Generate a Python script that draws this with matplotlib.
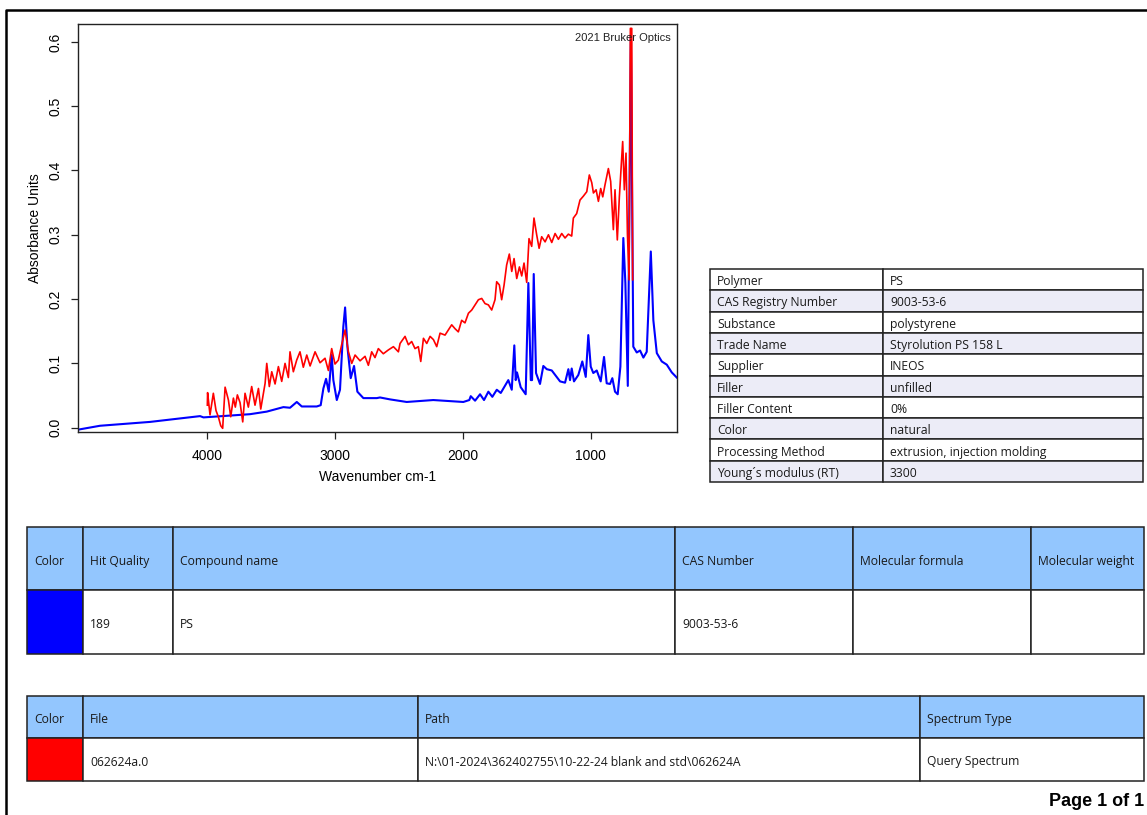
import matplotlib
matplotlib.use('Agg')
import matplotlib.pyplot as plt
from matplotlib.patches import Rectangle

plt.rcParams['font.family'] = ['Liberation Sans', 'DejaVu Sans']

# library hit spectrum (PS), blue
ref_wn = [5010, 4840, 4448, 4188, 4057, 4030, 3666, 3535, 3405, 3353,
          3300, 3261, 3144, 3113, 3092, 3071, 3050, 3027, 3014, 2987,
          2962, 2936, 2922, 2904, 2878, 2852, 2826, 2779, 2674, 2649,
          2570, 2440, 2232, 1997, 1950, 1939, 1905, 1866, 1835, 1801,
          1770, 1735, 1704, 1645, 1618, 1598, 1587, 1577, 1548, 1509,
          1488, 1469, 1459, 1446, 1428, 1397, 1371, 1344, 1305, 1240,
          1201, 1175, 1162, 1149, 1131, 1097, 1066, 1039, 1019, 1000,
          980, 953, 922, 896, 875, 849, 831, 810, 789, 768,
          745, 729, 710, 686, 667, 640, 614, 588, 562, 530,
          510, 483, 444, 405, 366, 327]
ref_abs = [-0.003, 0.003, 0.009, 0.015, 0.018, 0.016, 0.021, 0.025, 0.032, 0.031,
           0.040, 0.033, 0.033, 0.035, 0.061, 0.076, 0.056, 0.113, 0.074, 0.043,
           0.059, 0.157, 0.187, 0.126, 0.077, 0.096, 0.056, 0.046, 0.046, 0.047,
           0.044, 0.040, 0.043, 0.040, 0.043, 0.049, 0.042, 0.052, 0.043, 0.056,
           0.048, 0.059, 0.054, 0.074, 0.059, 0.128, 0.074, 0.086, 0.063, 0.052,
           0.225, 0.074, 0.074, 0.239, 0.085, 0.068, 0.096, 0.091, 0.089, 0.072,
           0.070, 0.091, 0.074, 0.092, 0.072, 0.082, 0.103, 0.079, 0.144, 0.095,
           0.085, 0.089, 0.072, 0.110, 0.069, 0.068, 0.077, 0.056, 0.052, 0.095,
           0.295, 0.225, 0.065, 0.610, 0.126, 0.117, 0.120, 0.109, 0.118, 0.274,
           0.167, 0.116, 0.103, 0.098, 0.086, 0.078]

# query spectrum (062624a.0), red
qry_wn = [4000, 3998, 3979, 3953, 3932, 3914, 3895, 3880, 3861, 3835,
          3817, 3796, 3781, 3765, 3744, 3723, 3705, 3679, 3653, 3627,
          3600, 3582, 3548, 3535, 3515, 3496, 3470, 3444, 3418, 3392,
          3366, 3353, 3327, 3301, 3275, 3249, 3222, 3196, 3157, 3118,
          3079, 3053, 3027, 3001, 2975, 2949, 2922, 2896, 2870, 2844,
          2805, 2766, 2740, 2714, 2688, 2662, 2623, 2583, 2544, 2505,
          2492, 2453, 2427, 2401, 2375, 2349, 2330, 2309, 2283, 2257,
          2231, 2205, 2179, 2140, 2114, 2088, 2062, 2036, 2010, 1984,
          1957, 1931, 1905, 1879, 1853, 1827, 1801, 1775, 1749, 1736,
          1715, 1697, 1678, 1658, 1637, 1618, 1600, 1579, 1558, 1540,
          1522, 1501, 1483, 1462, 1444, 1423, 1404, 1384, 1357, 1331,
          1305, 1279, 1253, 1227, 1201, 1175, 1149, 1136, 1110, 1084,
          1058, 1031, 1011, 992, 979, 958, 940, 922, 906, 888,
          862, 844, 823, 810, 792, 776, 750, 737, 724, 713,
          700, 690, 679, 672]
qry_abs = [0.035, 0.0545, 0.020, 0.0535, 0.0265, 0.017, 0.003, -0.001, 0.063, 0.043,
           0.017, 0.046, 0.032, 0.051, 0.039, 0.009, 0.0535, 0.032, 0.064, 0.035,
           0.061, 0.029, 0.069, 0.100, 0.064, 0.087, 0.068, 0.095, 0.072, 0.100,
           0.078, 0.118, 0.087, 0.105, 0.118, 0.094, 0.113, 0.096, 0.118, 0.101,
           0.108, 0.089, 0.123, 0.099, 0.105, 0.129, 0.152, 0.118, 0.100, 0.113,
           0.104, 0.111, 0.097, 0.118, 0.109, 0.123, 0.115, 0.121, 0.126, 0.118,
           0.131, 0.142, 0.129, 0.134, 0.123, 0.126, 0.103, 0.139, 0.131, 0.142,
           0.137, 0.126, 0.147, 0.144, 0.152, 0.160, 0.154, 0.149, 0.167, 0.163,
           0.178, 0.183, 0.191, 0.199, 0.201, 0.193, 0.191, 0.183, 0.199, 0.227,
           0.222, 0.199, 0.222, 0.253, 0.270, 0.243, 0.263, 0.232, 0.250, 0.236,
           0.256, 0.226, 0.294, 0.282, 0.326, 0.300, 0.279, 0.297, 0.289, 0.300,
           0.288, 0.302, 0.293, 0.302, 0.295, 0.301, 0.298, 0.326, 0.333, 0.354,
           0.360, 0.367, 0.393, 0.381, 0.365, 0.370, 0.352, 0.372, 0.359, 0.378,
           0.403, 0.383, 0.308, 0.370, 0.292, 0.359, 0.445, 0.370, 0.427, 0.302,
           0.230, 0.621, 0.621, 0.230]

x_ticks = [4000, 3000, 2000, 1000]
y_ticks = [0.0, 0.1, 0.2, 0.3, 0.4, 0.5, 0.6]

# info table (right)
info_keys = ['Polymer', 'CAS Registry Number', 'Substance', 'Trade Name', 'Supplier',
             'Filler', 'Filler Content', 'Color', 'Processing Method', 'Young\u00b4s modulus (RT)']
info_vals = ['PS', '9003-53-6', 'polystyrene', 'Styrolution PS 158 L', 'INEOS',
             'unfilled', '0%', 'natural', 'extrusion, injection molding', '3300']

hit_header = ['Color', 'Hit Quality', 'Compound name', 'CAS Number', 'Molecular formula', 'Molecular weight']
hit_row = ['', '189', 'PS', '9003-53-6', '', '']

file_header = ['Color', 'File', 'Path', 'Spectrum Type']
file_row = ['', '062624a.0', 'N:\\01-2024\\362402755\\10-22-24 blank and std\\062624A', 'Query Spectrum']

W, H = 1147, 815
fig = plt.figure(figsize=(W / 100, H / 100), dpi=100)

# page layer in pixel coordinates
bg = fig.add_axes([0, 0, 1, 1])
bg.set_xlim(0, W)
bg.set_ylim(H, 0)
bg.axis('off')
bg.plot([6, 6, W], [H, 9.5, 9.5], color='black', lw=1.8, solid_capstyle='projecting')

HEAD = '#93C6FE'
EDGE = '#222222'
TXT = '#1a1a1a'
TFONT = ['Open Sans', 'DejaVu Sans']


def draw_table(xs, ys, rows, fills, fs, dy):
    for r, row in enumerate(rows):
        for c, val in enumerate(row):
            x0, x1 = xs[c], xs[c + 1]
            y0, y1 = ys[r], ys[r + 1]
            bg.add_patch(Rectangle((x0, y0), x1 - x0, y1 - y0, facecolor=fills[r][c],
                                   edgecolor=EDGE, lw=1.1))
            if val:
                bg.text(x0 + 7, (y0 + y1) / 2 + dy, val, ha='left', va='center',
                        fontsize=fs, color=TXT, family=TFONT)


# right info table
ix = [710, 883, 1143]
iy = [269 + i * 21.3 for i in range(len(info_keys) + 1)]
ifill = [['white'] * 2 if i % 2 == 0 else ['#ECECF7'] * 2 for i in range(len(info_keys))]
draw_table(ix, iy, list(zip(info_keys, info_vals)), ifill, 8.7, 2)

# hit table
draw_table([27, 83, 173, 675, 853, 1031, 1144], [527, 590, 654],
           [hit_header, hit_row],
           [[HEAD] * 6, ['#0000FF'] + ['white'] * 5], 8.7, 3)

# file table
draw_table([27, 83, 418, 920, 1144], [696, 738, 781],
           [file_header, file_row],
           [[HEAD] * 4, ['#FF0000'] + ['white'] * 3], 8.7, 2.5)

bg.text(1144, 802, 'Page 1 of 1', ha='right', va='center', fontsize=13,
        fontweight='bold', color='black')

# spectrum plot
ax = fig.add_axes([78 / W, 1 - 432 / H, 599 / W, 408 / H])
ax.plot(ref_wn, ref_abs, color='#0000FF', lw=1.5)
ax.plot(qry_wn, qry_abs, color='#FF0000', lw=1.2)
ax.set_xlim(5012, 325)
ax.set_ylim(-0.0067, 0.6278)
ax.set_xticks(x_ticks)
ax.set_xticklabels([str(t) for t in x_ticks])
ax.set_yticks(y_ticks)
ax.set_yticklabels([f'{t:.1f}' for t in y_ticks])
ax.tick_params(direction='out', length=5, width=0.9, labelsize=10, color='#222222')
ax.tick_params(axis='x', pad=7)
ax.tick_params(axis='y', pad=6)
for lab in ax.get_yticklabels():
    lab.set_rotation(90)
    lab.set_va('center')
for s in ax.spines.values():
    s.set_linewidth(1.0)
    s.set_color('#222222')
ax.text(-0.072, 0.5, 'Absorbance Units', rotation=90, ha='center', va='center',
        fontsize=10, transform=ax.transAxes)
ax.text(0.5, -0.11, 'Wavenumber cm-1', ha='center', va='center',
        fontsize=10, transform=ax.transAxes)
ax.text(0.9895, 0.966, '2021 Bruker Optics', ha='right', va='center',
        fontsize=8, color='#222222', transform=ax.transAxes)

fig.savefig('out.png', dpi=100)
